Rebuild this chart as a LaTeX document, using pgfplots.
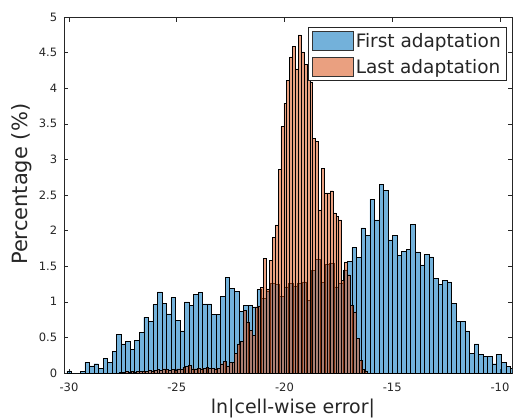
\documentclass[border=0pt]{standalone}
\usepackage{fontspec}
\setmainfont{DejaVu Sans}
\usepackage{pgfplots}
\usepackage{pgfplotstable}
\pgfplotsset{compat=1.18}
\definecolor{mblue}{rgb}{0,0.447,0.741}
\definecolor{morange}{rgb}{0.85,0.325,0.098}
\definecolor{axgray}{rgb}{0.15,0.15,0.15}

\pgfplotstableread{
x y
-30.10 0.03
-29.89 0
-29.68 0
-29.47 0.02
-29.26 0.15
-29.05 0.10
-28.84 0.13
-28.63 0.07
-28.42 0.21
-28.21 0.15
-28.00 0.30
-27.79 0.54
-27.58 0.41
-27.37 0.44
-27.16 0.33
-26.95 0.46
-26.74 0.57
-26.53 0.78
-26.32 0.73
-26.11 0.96
-25.90 1.14
-25.69 0.98
-25.48 0.83
-25.27 1.06
-25.06 0.74
-24.85 0.59
-24.64 1.00
-24.43 0.95
-24.22 1.10
-24.01 1.13
-23.80 0.97
-23.59 0.97
-23.38 0.82
-23.17 0.82
-22.96 1.08
-22.75 1.34
-22.54 1.19
-22.33 1.15
-22.12 0.87
-21.91 0.95
-21.70 0.95
-21.49 0.93
-21.28 1.17
-21.07 1.05
-20.86 1.15
-20.65 1.26
-20.44 1.24
-20.23 1.08
-20.02 1.21
-19.81 1.26
-19.60 1.22
-19.39 1.26
-19.18 1.28
-18.97 1.02
-18.76 1.44
-18.55 1.60
-18.34 1.27
-18.13 1.53
-17.92 1.54
-17.71 1.21
-17.50 1.26
-17.29 1.45
-17.08 1.57
-16.87 1.76
-16.66 1.62
-16.45 2.04
-16.24 1.93
-16.03 2.44
-15.82 2.15
-15.61 2.65
-15.40 2.57
-15.19 1.87
-14.98 1.93
-14.77 1.65
-14.56 1.71
-14.35 1.74
-14.14 2.09
-13.93 1.70
-13.72 1.52
-13.51 1.67
-13.30 1.63
-13.09 1.33
-12.88 1.24
-12.67 1.30
-12.46 1.28
-12.25 0.98
-12.04 0.73
-11.83 0.73
-11.62 0.59
-11.41 0.28
-11.20 0.41
-10.99 0.26
-10.78 0.23
-10.57 0.23
-10.36 0.13
-10.15 0.26
-9.94 0.15
-9.73 0.09
-9.52 0.07
-9.31 0.07
}\firsttable

\pgfplotstableread{
x y
-27.668 0.01
-27.534 0.01
-27.400 0.02
-27.266 0.01
-27.132 0.02
-26.998 0.01
-26.864 0.02
-26.730 0.02
-26.596 0.03
-26.462 0.02
-26.328 0.04
-26.194 0.03
-26.060 0.04
-25.926 0.05
-25.792 0.04
-25.658 0.06
-25.524 0.05
-25.390 0.04
-25.256 0.05
-25.122 0.04
-24.988 0.06
-24.854 0.05
-24.720 0.08
-24.586 0.09
-24.452 0.11
-24.318 0.06
-24.184 0.06
-24.050 0.07
-23.916 0.06
-23.782 0.07
-23.648 0.08
-23.514 0.07
-23.380 0.07
-23.246 0.06
-23.112 0.07
-22.978 0.13
-22.844 0.16
-22.710 0.10
-22.576 0.15
-22.442 0.15
-22.308 0.28
-22.174 0.41
-22.040 0.44
-21.906 0.88
-21.772 0.72
-21.638 0.60
-21.504 0.53
-21.370 0.93
-21.236 0.94
-21.102 1.20
-20.968 1.61
-20.834 1.18
-20.700 1.58
-20.566 1.91
-20.432 2.08
-20.298 2.86
-20.164 3.46
-20.030 3.79
-19.896 4.11
-19.762 4.44
-19.628 4.59
-19.494 4.27
-19.360 4.75
-19.226 4.51
-19.092 4.33
-18.958 4.21
-18.824 4.09
-18.690 3.30
-18.556 3.25
-18.422 2.29
-18.288 2.87
-18.154 2.53
-18.020 2.53
-17.886 2.56
-17.752 2.25
-17.618 2.20
-17.484 2.15
-17.350 1.30
-17.216 1.56
-17.082 1.38
-16.948 0.95
-16.814 0.86
-16.680 0.49
-16.546 0.18
-16.412 0.05
-16.278 0.03
-16.144 0.03
}\lasttable

\begin{document}
\begin{tikzpicture}
\useasboundingbox (-64bp,-46bp) rectangle (449bp,373bp);
\begin{axis}[
  at={(0,0)}, anchor=south west,
  scale only axis, width=448bp, height=356bp,
  xmin=-30.23, xmax=-9.44, ymin=0, ymax=5,
  xtick={-30,-25,-20,-15,-10},
  ytick={0,0.5,1,1.5,2,2.5,3,3.5,4,4.5,5},
  tick align=inside, major tick length=4.5bp,
  axis line style={draw=axgray, line width=0.5bp},
  tick style={draw=axgray, line width=0.5bp},
  /pgf/number format/assume math mode=true,
  /pgf/number format/fixed,
  ticklabel style={font=\fontsize{11.5bp}{13bp}\selectfont, text=axgray},
  xticklabel style={anchor=base, yshift=-18.7bp, inner sep=0pt},
  yticklabel style={anchor=east, xshift=-6.7bp, inner sep=0pt},
  xlabel={ln|cell-wise error|},
  ylabel={Percentage (\%)},
  x label style={font=\fontsize{19bp}{22bp}\selectfont, text=axgray, at={(axis description cs:0.511,0)}, anchor=base, yshift=-40.7bp},
  y label style={font=\fontsize{21bp}{24bp}\selectfont, text=axgray, at={(axis description cs:-0.094,0.53)}, anchor=center},
  legend style={at={(axis description cs:0.9866,0.971)}, anchor=north east,
    draw=axgray, line width=0.5bp, fill=white,
    font=\fontsize{18.5bp}{21bp}\selectfont, text=axgray,
    inner xsep=3bp, inner ysep=3.5bp, row sep=6.5bp},
  legend cell align=left,
  legend image code/.code={\draw[#1] (0bp,-9bp) rectangle (41.7bp,9.3bp);},
]
\addplot[ybar interval, fill=mblue, fill opacity=0.55, draw=black, line width=0.45bp, forget plot] table[x=x,y=y] {\firsttable};
\addplot[ybar interval, fill=morange, fill opacity=0.55, draw=black, line width=0.45bp, forget plot] table[x=x,y=y] {\lasttable};
\addlegendimage{fill=mblue, fill opacity=0.55, draw=black!80, line width=0.5bp}
\addlegendentry{First adaptation}
\addlegendimage{fill=morange, fill opacity=0.55, draw=black!80, line width=0.5bp}
\addlegendentry{Last adaptation}
\end{axis}
\end{tikzpicture}
\end{document}
